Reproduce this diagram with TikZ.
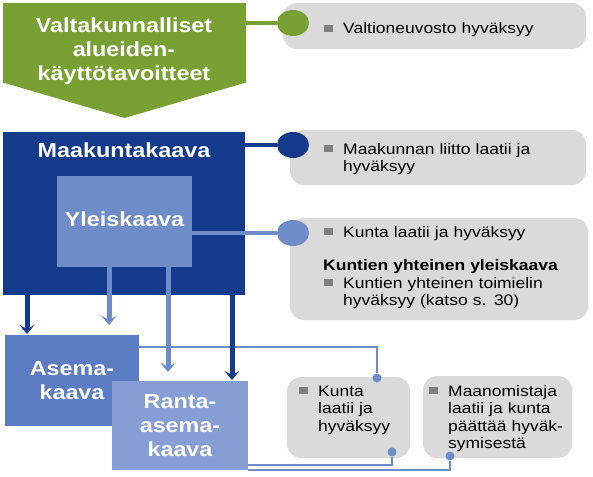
\documentclass[tikz,border=0pt]{standalone}
\usepackage{fontspec}
\setmainfont{Liberation Sans}[FakeStretch=1.15]
\usetikzlibrary{positioning,arrows.meta,shapes.geometric}

\definecolor{vakgreen}{RGB}{120,160,50}
\definecolor{mkblue}{RGB}{20,58,140}
\definecolor{ykblue}{RGB}{110,140,200}
\definecolor{asblue}{RGB}{92,124,196}
\definecolor{rablue}{RGB}{134,158,212}
\definecolor{boxgray}{RGB}{218,218,218}
\definecolor{bulgray}{RGB}{128,128,128}

\newcommand\bulsq{\leavevmode\llap{\textcolor{bulgray}{\rule[2pt]{9.5pt}{7pt}}\hspace{10pt}}}

\begin{document}
\begin{tikzpicture}[x=1pt,y=-1pt,
    plan/.style={rectangle,inner sep=0pt,outer sep=0pt},
    title/.style={text=white,font=\fontsize{20.3}{24}\selectfont\bfseries,align=center,inner sep=0pt},
    note/.style={rectangle,rounded corners=14pt,fill=boxgray,inner sep=0pt},
    notetext/.style={anchor=base west,text width=250pt,align=left,inner sep=0pt,font=\fontsize{15.2}{17.5}\selectfont},
    knob/.style={ellipse,minimum width=32pt,minimum height=26pt,inner sep=0pt},
    dot/.style={circle,fill=ykblue,minimum size=9pt,inner sep=0pt},
    link/.style={draw=ykblue,line width=2pt},
    darr/.style={-{Stealth[length=9pt,width=15pt,inset=4pt]},line width=5pt,draw=mkblue},
    larr/.style={-{Stealth[length=9pt,width=15pt,inset=4pt]},line width=5pt,draw=ykblue}]
    \useasboundingbox (0,0) rectangle (593,476);

    % gray notes on the right
    \node[note,minimum width=303pt,minimum height=46pt] (n1) at (434.5,26) {};
    \node[note,minimum width=296pt,minimum height=55pt] (n2) at (438,157.5) {};
    \node[note,minimum width=298pt,minimum height=102pt] (n3) at (439,269) {};
    \node[note,minimum width=123pt,minimum height=81pt] (n4) at (348.5,417.5) {};
    \node[note,minimum width=149pt,minimum height=82pt] (n5) at (497.5,417) {};

    % plan levels
    \node[plan,fill=vakgreen,minimum width=243pt,minimum height=80pt] (vak) at (124.5,43) {};
    \fill[vakgreen] ([yshift=0.5pt]vak.south west) -- ([yshift=-35pt]vak.south) -- ([yshift=0.5pt]vak.south east) -- cycle;
    \node[plan,fill=mkblue,minimum width=242pt,minimum height=163pt] (mk) at (124,213.5) {};
    \node[plan,fill=ykblue,minimum width=135pt,minimum height=91pt] (yk) at (124.5,221.5) {};
    \node[plan,fill=asblue,minimum width=134pt,minimum height=91pt] (as) at (72,380.5) {};
    \node[plan,fill=rablue,minimum width=136pt,minimum height=89pt] (ra) at (180,425.5) {};

    \node[title] (vakt) at (124,51) {Valtakunnalliset\\alueiden-\\käyttötavoitteet};
    \node[title,below=11pt of mk.north] (mkt) {Maakuntakaava};
    \node[title] (ykt) at ([yshift=2pt]yk.center) {Yleiskaava};
    \node[title] (ast) at (as) {Asema-\\kaava};
    \node[title] (rat) at (ra) {Ranta-\\asema-\\kaava};

    % knobs and their connectors
    \node[knob,fill=vakgreen] (k1) at (293,23) {};
    \node[knob,fill=mkblue] (k2) at (293,145) {};
    \node[knob,fill=ykblue] (k3) at (293,233) {};
    \draw[vakgreen,line width=4.3pt] (vak.east |- k1) -- (k1);
    \draw[mkblue,line width=4.3pt] (mk.east |- k2) -- (k2);
    \draw[ykblue,line width=3.3pt] (yk.east |- k3) -- (k3);

    % thin links to the lower notes
    \node[dot] (d1) at (377,378) {};
    \node[dot] (d2) at (392,452) {};
    \node[dot] (d3) at (450,456) {};
    \draw[link] ([yshift=-12pt]as.north east) -| (d1);
    \draw[link] ([yshift=5pt]ra.south east) -| (d2);
    \draw[link] ([yshift=0.5pt]ra.south east) -| (d3);

    % arrows down
    \coordinate (a1) at ([xshift=24pt]mk.south west);
    \coordinate (a2) at ([xshift=52pt]yk.south west);
    \coordinate (a3) at ([xshift=111pt]yk.south west);
    \coordinate (a4) at ([xshift=-13pt]mk.south east);
    \draw[darr,shorten >=1pt] (a1) -- (a1 |- as.north);
    \draw[larr,shorten >=10pt] (a2) -- (a2 |- as.north);
    \draw[larr,shorten >=9pt] (a3) -- (a3 |- ra.north);
    \draw[darr,shorten >=1pt] (a4) -- (a4 |- ra.north);

    % note texts
    \node[notetext] (t1) at (343,34) {\bulsq Valtioneuvosto hyväksyy};
    \node[notetext] (t2) at (343,154) {\bulsq Maakunnan liitto laatii ja\\hyväksyy};
    \node[notetext] (t3) at (343,237) {\bulsq Kunta laatii ja hyväksyy\\[16pt]
        \hspace*{-20pt}\textbf{Kuntien yhteinen yleiskaava}\\
        \bulsq Kuntien yhteinen toimielin\\hyväksyy (katso s. 30)};
    \node[notetext] (t4) at (318,396) {\bulsq Kunta\\laatii ja\\hyväksyy};
    \node[notetext] (t5) at (448,396) {\bulsq Maanomistaja\\laatii ja kunta\\päättää hyväk-\\symisestä};
\end{tikzpicture}
\end{document}
